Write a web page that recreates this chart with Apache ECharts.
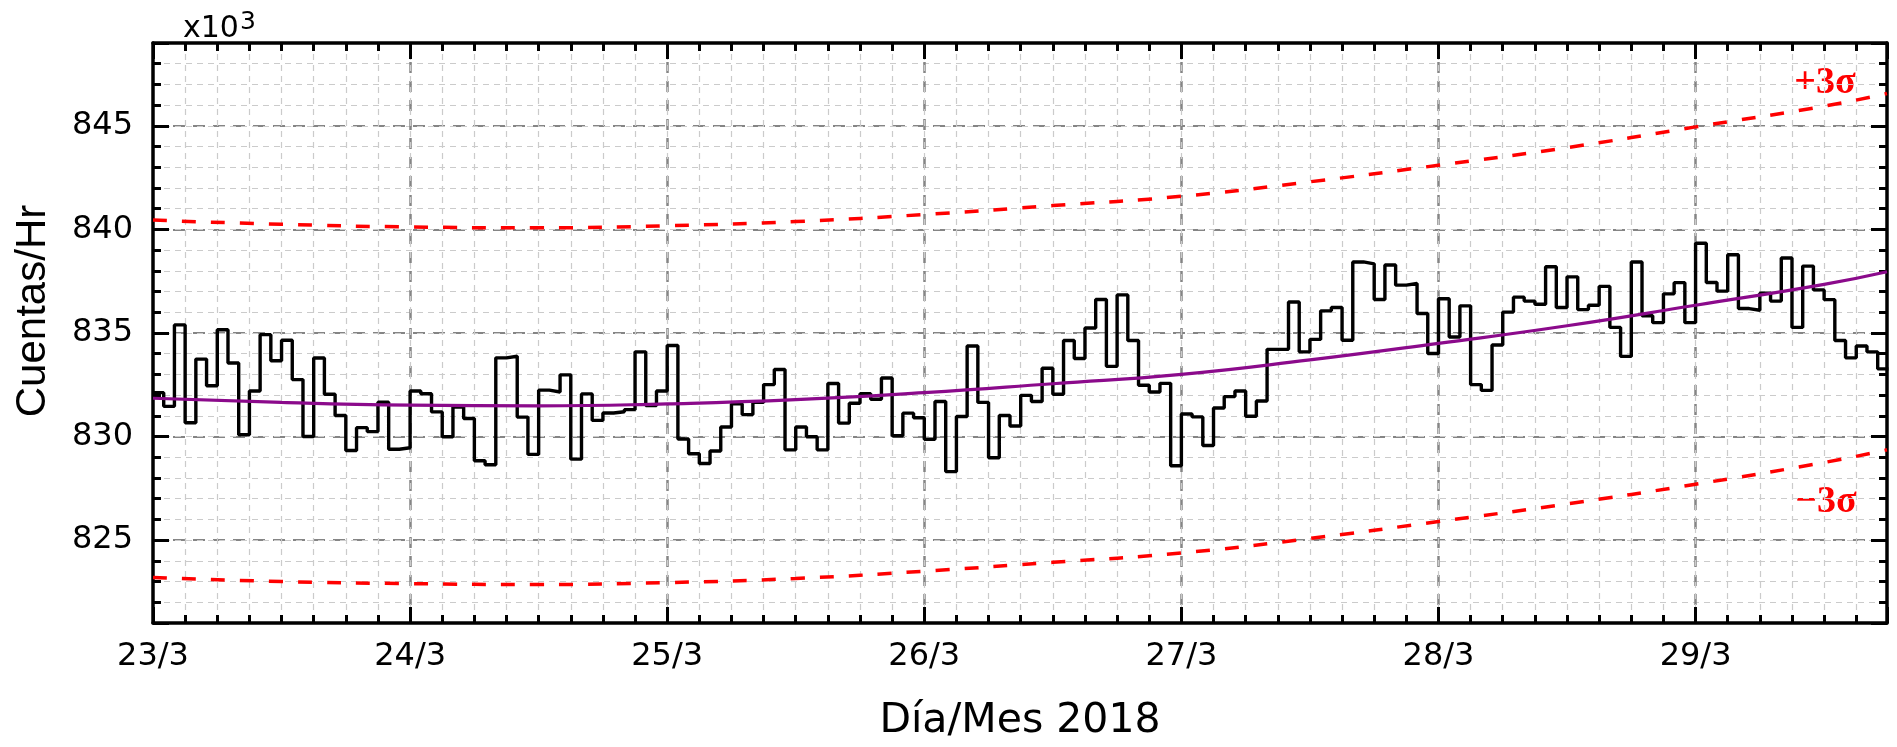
<!DOCTYPE html>
<html><head><meta charset="utf-8">
<script src="https://cdn.jsdelivr.net/npm/echarts@6/dist/echarts.min.js"></script>
<style>html,body{margin:0;padding:0;background:#fff}#c{width:1897px;height:747px}</style>
</head><body><div id="c"></div>
<script>
// Hourly counts (x10^3 counts/hr), one value per hour starting 23/3 00:00
const stepValues = [
832.12,831.46,835.39,830.67,833.74,832.45,835.16,833.55,830.09,832.20,834.92,833.66,
834.65,832.75,830.00,833.79,832.04,831.02,829.33,830.43,830.24,831.66,829.39,829.46,
832.20,832.07,831.19,829.99,831.43,830.87,828.83,828.64,833.80,833.88,830.94,829.14,
832.24,832.15,832.98,828.91,832.06,830.78,831.14,831.20,831.30,834.09,831.50,832.20,
834.40,829.88,829.17,828.70,829.30,830.46,831.58,831.06,831.65,832.51,833.24,829.36,
830.46,829.99,829.36,832.56,830.65,831.61,832.07,831.80,832.83,830.04,831.13,830.91,
829.87,831.69,828.31,830.97,834.37,831.65,828.98,831.02,830.51,831.99,831.69,833.30,
832.04,834.64,833.77,835.24,836.62,833.39,836.84,834.64,832.48,832.15,832.57,828.59,
831.09,830.95,829.57,831.38,831.93,832.20,830.98,831.72,834.21,834.21,836.50,834.09,
834.69,836.07,836.23,834.65,838.43,838.34,836.62,838.28,837.31,837.39,835.94,834.01,
836.65,834.81,836.31,832.51,832.23,834.42,836.01,836.73,836.54,836.39,838.20,836.23,
837.71,836.13,836.34,837.25,835.27,833.87,838.43,835.83,835.50,836.89,837.43,835.50,
839.33,837.44,837.02,838.78,836.18,836.10,836.92,836.54,838.62,835.27,838.23,837.08,
836.61,834.64,833.80,834.37,834.09,833.27
];
// Fit curve and ±3σ bands, read every 12 hours
const curveHours  = [0,12,24,36,48,60,72,84,96,108,120,132,144,156,161.87];
const fitValues   = [831.85,831.65,831.52,831.48,831.58,831.78,832.12,832.55,833.00,833.70,834.50,835.35,836.34,837.35,837.96];
const upperValues = [840.45,840.25,840.12,840.08,840.18,840.38,840.72,841.15,841.60,842.30,843.10,843.95,844.95,845.95,846.56];
const lowerValues = [823.20,823.00,822.90,822.86,822.95,823.15,823.50,823.93,824.38,825.08,825.90,826.75,827.70,828.75,829.36];
const dayLabels   = ['23/3','24/3','25/3','26/3','27/3','28/3','29/3'];
const yTickValues = [825,830,835,840,845];
const X_MAX = 161.87, Y_MIN = 821, Y_MAX = 849;

const stepData = stepValues.map((v,i)=>[i,v]);
stepData.push([stepValues.length, stepValues[stepValues.length-1]]);
const zip = a => curveHours.map((h,i)=>[h,a[i]]);

const FONT = 'DejaVu Sans';
const majorGridX = {show:true, showMinLine:false, showMaxLine:false, lineStyle:{color:'#858585', width:2.5, type:[11,8]}};
const majorGridY = {show:true, showMinLine:false, showMaxLine:false, lineStyle:{color:'#858585', width:2, type:[12,8]}};
const minorGrid  = {show:true, showMinLine:false, showMaxLine:false, lineStyle:{color:'#cbcbcb', width:1.2, type:[6,5]}};
const blackLine = {show:true, onZero:false, lineStyle:{color:'#000', width:3.5}};
const noLine = {show:false, onZero:false};
const tick = len => ({show:true, inside:true, length:len, lineStyle:{color:'#000', width:3}});

const xBase = {type:'value', min:0, max:X_MAX, gridIndex:0};
const yMajor = {type:'value', min:Y_MIN, max:Y_MAX, splitNumber:5, minInterval:5, maxInterval:5};
const yMinor = {type:'value', min:Y_MIN, max:Y_MAX, interval:1};

const option = {
  animation:false,
  backgroundColor:'#fff',
  grid:{left:153, right:10, top:43, bottom:111, containLabel:false},
  xAxis:[
    Object.assign({}, xBase, {position:'bottom', interval:24, axisLine:blackLine, axisTick:tick(16),
      axisLabel:{show:true, margin:18, color:'#000', fontFamily:FONT, fontSize:32,
        formatter:v => (Math.abs(v/24-Math.round(v/24))<1e-6 && dayLabels[Math.round(v/24)]) || ''},
      splitLine:majorGridX,
      name:'Día/Mes 2018', nameLocation:'middle', nameGap:78,
      nameTextStyle:{color:'#000', fontFamily:FONT, fontSize:41}}),
    Object.assign({}, xBase, {position:'bottom', interval:3, axisLine:noLine, axisTick:tick(8),
      axisLabel:{show:false}, splitLine:minorGrid}),
    Object.assign({}, xBase, {position:'top', interval:24, axisLine:blackLine, axisTick:tick(16),
      axisLabel:{show:false}, splitLine:{show:false}}),
    Object.assign({}, xBase, {position:'top', interval:3, axisLine:noLine, axisTick:tick(8),
      axisLabel:{show:false}, splitLine:{show:false}})
  ],
  yAxis:[
    Object.assign({}, yMajor, {position:'left', axisLine:blackLine, axisTick:tick(16),
      axisLabel:{show:true, margin:20, color:'#000', fontFamily:FONT, fontSize:32,
        formatter:v => yTickValues.includes(Math.round(v*1000)/1000) ? String(Math.round(v)) : ''},
      splitLine:majorGridY,
      name:'Cuentas/Hr', nameLocation:'middle', nameGap:99, nameRotate:90,
      nameTextStyle:{color:'#000', fontFamily:'Liberation Sans', fontSize:42, padding:[0,0,0,44]}}),
    Object.assign({}, yMinor, {position:'left', axisLine:noLine, axisTick:tick(8),
      axisLabel:{show:false}, splitLine:minorGrid}),
    Object.assign({}, yMajor, {position:'right', axisLine:blackLine, axisTick:tick(16),
      axisLabel:{show:false}, splitLine:{show:false}}),
    Object.assign({}, yMinor, {position:'right', axisLine:noLine, axisTick:tick(8),
      axisLabel:{show:false}, splitLine:{show:false}})
  ],
  series:[
    {type:'line', name:'Cuentas', xAxisIndex:0, yAxisIndex:0, step:'end', data:stepData,
      showSymbol:false, lineStyle:{color:'#000', width:3.4}, z:3},
    {type:'line', name:'Ajuste', xAxisIndex:0, yAxisIndex:0, smooth:true, data:zip(fitValues),
      showSymbol:false, lineStyle:{color:'#8B0A8B', width:3.2}, z:4},
    {type:'line', name:'+3σ', xAxisIndex:0, yAxisIndex:0, smooth:true, data:zip(upperValues),
      showSymbol:false, lineStyle:{color:'#ff0000', width:3.5, type:[14,15]}, z:5},
    {type:'line', name:'−3σ', xAxisIndex:0, yAxisIndex:0, smooth:true, data:zip(lowerValues),
      showSymbol:false, lineStyle:{color:'#ff0000', width:3.5, type:[14,15]}, z:5}
  ],
  graphic:[
    {type:'text', x:183, y:29, style:{text:'x10', fill:'#000', font:'30px "DejaVu Sans"', textAlign:'left', textVerticalAlign:'middle'}},
    {type:'text', x:240, y:22, style:{text:'3', fill:'#000', font:'25px "DejaVu Sans"', textAlign:'left', textVerticalAlign:'middle'}},
    {type:'text', x:1825, y:83, style:{text:'+3σ', fill:'#ff0000', font:'bold 38px "Liberation Serif"', textAlign:'center', textVerticalAlign:'middle'}},
    {type:'text', x:1826, y:502, style:{text:'−3σ', fill:'#ff0000', font:'bold 38px "Liberation Serif"', textAlign:'center', textVerticalAlign:'middle'}}
  ]
};
const chart = echarts.init(document.getElementById('c'), null, {renderer:'canvas'});
chart.setOption(option);
</script>
</body></html>
